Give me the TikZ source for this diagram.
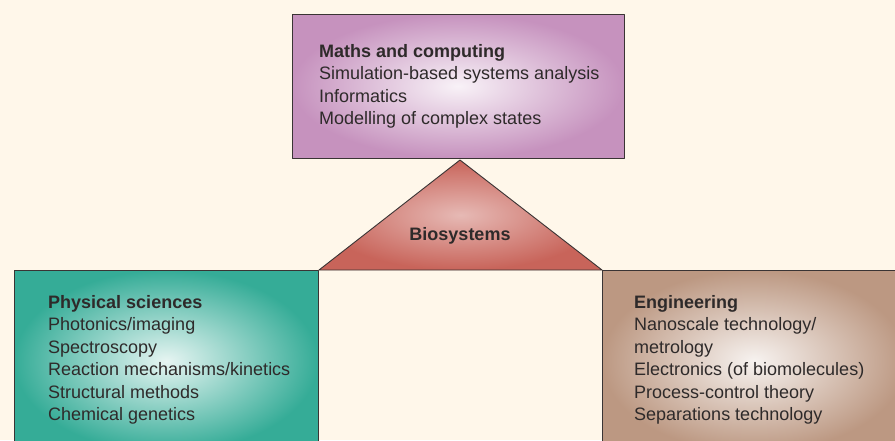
\documentclass[tikz,border=0pt]{standalone}
\usepackage{fontspec}
\setmainfont{Liberation Sans}
\definecolor{paper}{HTML}{FFF7EA}
\definecolor{edge}{HTML}{3A3434}
\definecolor{ink}{HTML}{2E2A2A}
\definecolor{maths}{HTML}{C692BE}
\definecolor{phys}{HTML}{35AC97}
\definecolor{eng}{HTML}{BC9882}
\definecolor{bio}{HTML}{C8645A}
\begin{document}
\begin{tikzpicture}[x=1pt,y=-1pt, font=\fontsize{18}{22.5}\selectfont, line join=round,
		panel/.style={draw=edge, line width=.9pt},
		txt/.style={anchor=north west, inner sep=0pt, align=left, text=ink}]
	\fill[paper] (0,0) rectangle (895,440);
	\clip (0,0) rectangle (895,440);
	% the three fields and the biosystems roof
	\draw[panel, inner color=maths!12!white, outer color=maths] (292,14) rectangle (624,158);
	\draw[panel, inner color=phys!12!white, outer color=phys] (14,270) rectangle (318,452);
	\draw[panel, inner color=eng!12!white, outer color=eng] (602,270) rectangle (906,452);
	\draw[panel, inner color=bio!45!white, outer color=bio] (319,270)--(460,160)--(602,270)--cycle;
	\path
	(319,44) node[txt] (mathsTxt) {\textbf{Maths and computing}\\Simulation-based systems analysis\\Informatics\\Modelling of complex states}
	(48,295) node[txt] (physTxt) {\textbf{Physical sciences}\\Photonics/imaging\\Spectroscopy\\Reaction mechanisms/kinetics\\Structural methods\\Chemical genetics}
	(634,295) node[txt] (engTxt) {\textbf{Engineering}\\Nanoscale technology/\\metrology\\Electronics (of biomolecules)\\Process-control theory\\Separations technology}
	(460,240) node[anchor=base, inner sep=0pt, text=ink] (bioTxt) {\textbf{Biosystems}};
\end{tikzpicture}
\end{document}
